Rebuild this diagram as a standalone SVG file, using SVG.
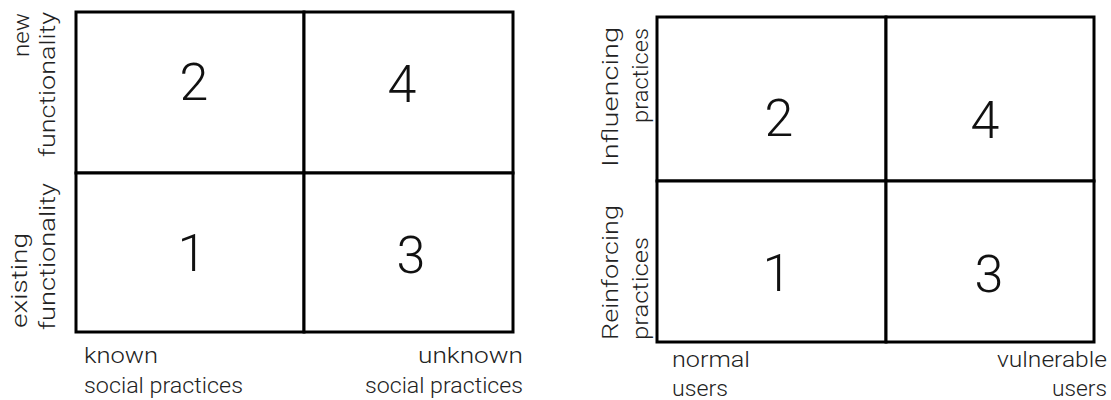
<svg xmlns="http://www.w3.org/2000/svg" width="1111" height="400" viewBox="0 0 1111 400">
<style>
.cell{fill:#fff;stroke:#000;stroke-width:3}
.num{font-family:Roboto,"Liberation Sans",sans-serif;font-weight:300;font-size:52px;fill:#111;text-anchor:middle}
.lbl{font-family:Roboto,"Liberation Sans",sans-serif;font-weight:300;font-size:22px;fill:#222}
.end{text-anchor:end}
</style>
<rect width="1111" height="400" fill="#fff"/>
<g id="gridA">
  <g id="A2"><rect class="cell" x="76" y="12" width="228" height="161"/><text class="num" x="194" y="100">2</text></g>
  <g id="A4"><rect class="cell" x="304" y="12" width="209" height="161"/><text class="num" x="402" y="102">4</text></g>
  <g id="A1"><rect class="cell" x="76" y="173" width="228" height="159"/><text class="num" x="192" y="271">1</text></g>
  <g id="A3"><rect class="cell" x="304" y="173" width="209" height="159"/><text class="num" x="411" y="273">3</text></g>
  <g id="A-labels">
    <text class="lbl end" transform="translate(29,13) rotate(-90)" textLength="44" lengthAdjust="spacingAndGlyphs">new</text>
    <text class="lbl end" transform="translate(55,12) rotate(-90)" textLength="145" lengthAdjust="spacingAndGlyphs">functionality</text>
    <text class="lbl" transform="translate(27,328) rotate(-90)" textLength="95" lengthAdjust="spacingAndGlyphs">existing</text>
    <text class="lbl" transform="translate(55,330) rotate(-90)" textLength="147" lengthAdjust="spacingAndGlyphs">functionality</text>
    <text class="lbl" x="84" y="363" textLength="74" lengthAdjust="spacingAndGlyphs">known</text>
    <text class="lbl" x="84" y="393" textLength="159" lengthAdjust="spacingAndGlyphs">social practices</text>
    <text class="lbl" x="418" y="363" textLength="105" lengthAdjust="spacingAndGlyphs">unknown</text>
    <text class="lbl" x="365" y="393" textLength="158" lengthAdjust="spacingAndGlyphs">social practices</text>
  </g>
</g>
<g id="gridB">
  <g id="B2"><rect class="cell" x="657" y="17" width="229" height="164"/><text class="num" x="779" y="136">2</text></g>
  <g id="B4"><rect class="cell" x="886" y="17" width="208" height="164"/><text class="num" x="985" y="138">4</text></g>
  <g id="B1"><rect class="cell" x="657" y="181" width="229" height="161"/><text class="num" x="777" y="291">1</text></g>
  <g id="B3"><rect class="cell" x="886" y="181" width="208" height="161"/><text class="num" x="989" y="292">3</text></g>
  <g id="B-labels">
    <text class="lbl end" transform="translate(618,27) rotate(-90)" textLength="140" lengthAdjust="spacingAndGlyphs">Influencing</text>
    <text class="lbl end" transform="translate(648,28) rotate(-90)" textLength="95" lengthAdjust="spacingAndGlyphs">practices</text>
    <text class="lbl" transform="translate(618,340) rotate(-90)" textLength="135" lengthAdjust="spacingAndGlyphs">Reinforcing</text>
    <text class="lbl" transform="translate(648,340) rotate(-90)" textLength="103" lengthAdjust="spacingAndGlyphs">practices</text>
    <text class="lbl" x="672" y="367" textLength="78" lengthAdjust="spacingAndGlyphs">normal</text>
    <text class="lbl" x="672" y="396" textLength="56" lengthAdjust="spacingAndGlyphs">users</text>
    <text class="lbl" x="997" y="367" textLength="110" lengthAdjust="spacingAndGlyphs">vulnerable</text>
    <text class="lbl" x="1052" y="396" textLength="55" lengthAdjust="spacingAndGlyphs">users</text>
  </g>
</g>
</svg>
